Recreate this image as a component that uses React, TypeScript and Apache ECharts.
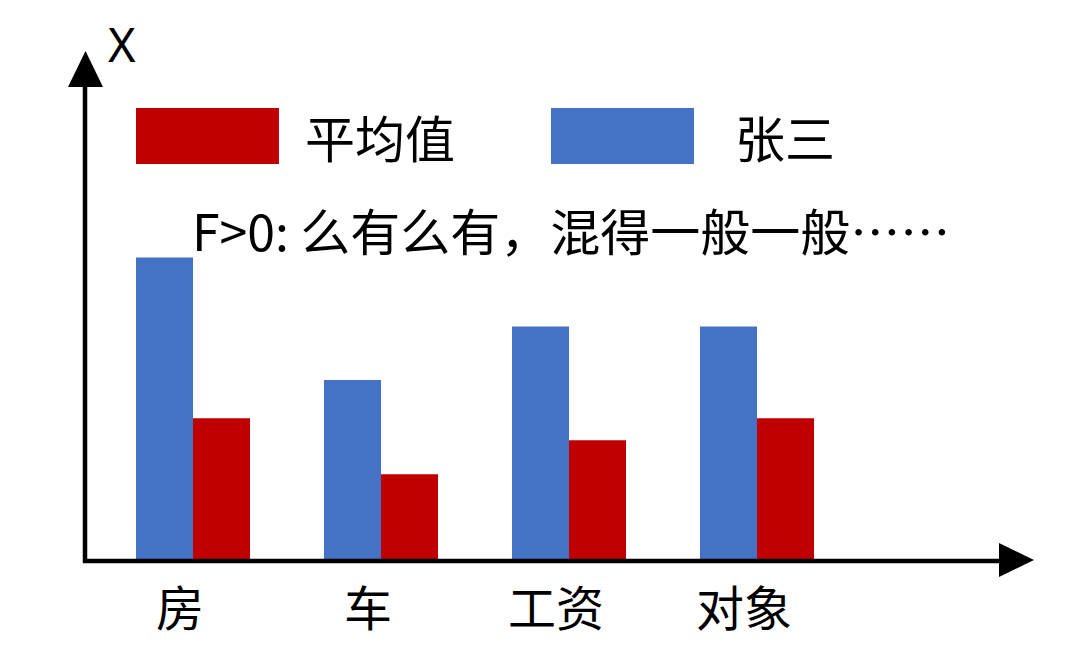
import React, { useEffect, useRef } from "react";
import * as echarts from "echarts";

const categories = ["房", "车", "工资", "对象"];
const zhangSan = [5.95, 3.55, 4.6, 4.6];
const average = [2.8, 1.7, 2.37, 2.8];
const seriesNames = ["张三", "平均值"];
const annotation = "F>0: 么有么有，混得一般一般……";
const axisName = "X";

const RED = "#C00000";
const BLUE = "#4472C4";
const CJK = "'Noto Sans CJK SC', 'Noto Sans', sans-serif";

export default function App() {
  const ref = useRef<HTMLDivElement>(null);
  useEffect(() => {
    if (!ref.current) return;
    const chart = echarts.init(ref.current, undefined, { renderer: "svg" });
    chart.setOption({
      animation: false,
      backgroundColor: "#ffffff",
      grid: { left: 99, width: 752, top: 51, bottom: 102 },
      xAxis: {
        type: "category",
        data: categories,
        axisLine: { show: false },
        axisTick: { show: false },
        axisLabel: {
          fontSize: 48,
          color: "#000",
          fontFamily: CJK,
          margin: 20,
          padding: [0, 26, 0, 0],
        },
      },
      yAxis: {
        type: "value",
        min: 0,
        max: 10,
        show: false,
        splitLine: { show: false },
      },
      legend: [
        {
          left: 136,
          top: 108,
          padding: 0,
          itemWidth: 143,
          itemHeight: 56,
          data: [seriesNames[1]],
          icon: "rect",
          textStyle: { fontSize: 50, color: "#000", fontFamily: CJK, padding: [0, 0, 0, 21], lineHeight: 56 },
        },
        {
          left: 551,
          top: 108,
          padding: 0,
          itemWidth: 143,
          itemHeight: 56,
          data: [seriesNames[0]],
          icon: "rect",
          textStyle: { fontSize: 50, color: "#000", fontFamily: CJK, padding: [0, 0, 0, 36], lineHeight: 56 },
        },
      ],
      series: [
        {
          name: seriesNames[0],
          type: "bar",
          data: zhangSan,
          barWidth: 57,
          barGap: "0%",
          itemStyle: { color: BLUE },
        },
        {
          name: seriesNames[1],
          type: "bar",
          data: average,
          barWidth: 57,
          barGap: "0%",
          itemStyle: { color: RED },
        },
      ],
      graphic: [
        { type: "line", z: 100, shape: { x1: 85, y1: 563, x2: 85, y2: 80 }, style: { stroke: "#000", lineWidth: 4.5 } },
        { type: "polygon", z: 100, shape: { points: [[85.5, 51], [68, 87], [103, 87]] }, style: { fill: "#000" } },
        { type: "line", z: 100, shape: { x1: 83, y1: 561, x2: 1005, y2: 561 }, style: { stroke: "#000", lineWidth: 4.5 } },
        { type: "polygon", z: 100, shape: { points: [[1034, 560], [999, 543], [999, 577]] }, style: { fill: "#000" } },
        {
          type: "text",
          z: 100,
          left: 108,
          top: 20,
          style: { text: axisName, fontSize: 47, fill: "#000", fontFamily: "'Noto Sans', sans-serif" },
        },
        {
          type: "text",
          z: 100,
          x: 192,
          y: 229,
          style: {
            text: annotation,
            fontSize: 50,
            fill: "#000",
            fontFamily: CJK,
            verticalAlign: "middle",
            align: "left",
          },
        },
      ],
    });
    return () => chart.dispose();
  }, []);
  return (
    <div
      ref={ref}
      style={{ position: "absolute", left: 0, top: 0, width: 1080, height: 663, background: "#fff" }}
    />
  );
}
